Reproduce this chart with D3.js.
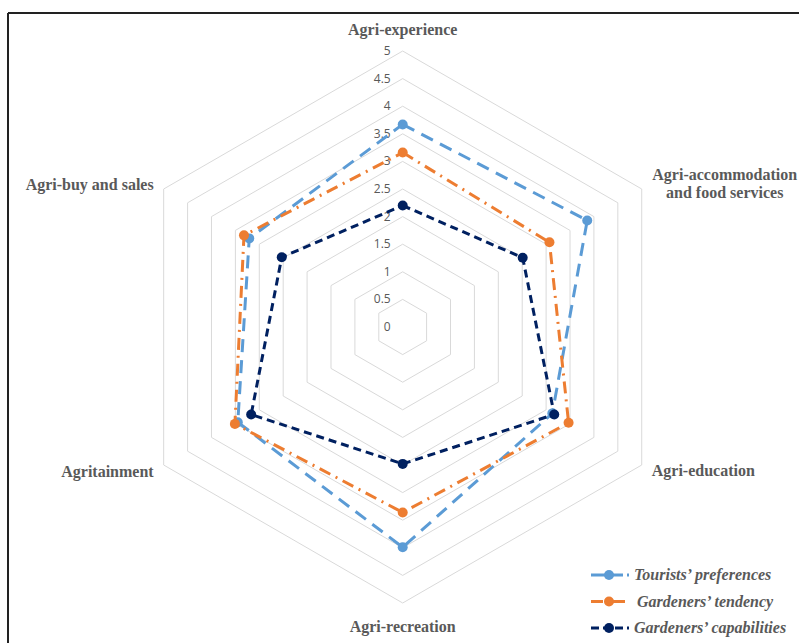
<!DOCTYPE html>
<html lang="en">
<head>
  <meta charset="UTF-8">
  <title>Agri-tourism radar</title>
  <script src="https://d3js.org/d3.v7.min.js"></script>
  <style>
    body { margin: 0; background: #fff; }
    svg text { fill: #595959; }
    .cat { font-family: "Liberation Serif", "Times New Roman", serif; font-weight: bold; font-size: 16px; }
    .tick { font-family: "Open Sans", "Liberation Sans", sans-serif; font-size: 12px; }
    .leg { font-family: "Liberation Serif", "Times New Roman", serif; font-weight: bold; font-style: italic; font-size: 16px; }
  </style>
</head>
<body>
  <svg id="chart" width="799" height="643"></svg>

  <script>
    const categories = ["Agri-experience", "Agri-accommodation and food services", "Agri-education",
                        "Agri-recreation", "Agritainment", "Agri-buy and sales"];
    const tourists = [3.67, 3.86, 3.13, 3.99, 3.45, 3.21];
    const tendency = [3.16, 3.07, 3.47, 3.36, 3.51, 3.32];
    const capabilities = [2.2, 2.51, 3.17, 2.48, 3.17, 2.53];
    const ticks = [0, 0.5, 1, 1.5, 2, 2.5, 3, 3.5, 4, 4.5, 5];
    const seriesNames = ["Tourists\u2019 preferences", "Gardeners\u2019 tendency", "Gardeners\u2019 capabilities"];

    const series = [
      { name: seriesNames[0], values: tourists, color: "#5B9BD5", dash: "13,8" },
      { name: seriesNames[1], values: tendency, color: "#ED7D31", dash: "12,6,2,6" },
      { name: seriesNames[2], values: capabilities, color: "#002060", dash: "8,5" }
    ];

    const svg = d3.select("#chart");
    const cx = 402.7, cy = 327, R = 276;
    const r = d3.scaleLinear().domain([0, 5]).range([0, R]);
    const ang = d3.scaleLinear().domain([0, categories.length]).range([0, 2 * Math.PI]);
    const px = (i, v) => cx + r(v) * Math.sin(ang(i));
    const py = (i, v) => cy - r(v) * Math.cos(ang(i));

    // frame
    svg.append("line").attr("x1", 8).attr("y1", 13).attr("x2", 799).attr("y2", 13).attr("stroke", "#222").attr("stroke-width", 2);
    svg.append("line").attr("x1", 8).attr("y1", 13).attr("x2", 8).attr("y2", 643).attr("stroke", "#222").attr("stroke-width", 2);

    // grid rings
    const ringLine = d3.line();
    ticks.forEach(t => {
      const pts = categories.map((c, i) => [px(i, t), py(i, t)]);
      svg.append("path").attr("d", ringLine(pts) + "Z")
        .attr("fill", "none").attr("stroke", "#d9d9d9").attr("stroke-width", 1);
    });

    // tick labels
    svg.selectAll(".tick").data(ticks).join("text")
      .attr("class", "tick")
      .attr("x", cx - 12).attr("y", d => cy - r(d) + 4)
      .attr("text-anchor", "end")
      .text(d => d);

    // category labels
    const labelPos = [
      { dx: 0, dy: -16, anchor: "middle" },
      { dx: 83, dy: -9, anchor: "middle" },
      { dx: 10, dy: 11, anchor: "start" },
      { dx: 0, dy: 29, anchor: "middle" },
      { dx: -10, dy: 12, anchor: "end" },
      { dx: -10, dy: 1, anchor: "end" }
    ];
    categories.forEach((c, i) => {
      const p = labelPos[i];
      const t = svg.append("text").attr("class", "cat")
        .attr("x", px(i, 5) + p.dx).attr("y", py(i, 5) + p.dy)
        .attr("text-anchor", p.anchor);
      if (i === 1) {
        t.append("tspan").attr("x", px(i, 5) + p.dx).text("Agri-accommodation");
        t.append("tspan").attr("x", px(i, 5) + p.dx).attr("dy", 18).text("and food services");
      } else {
        t.text(c);
      }
    });

    // series
    const line = d3.line().x(d => d[0]).y(d => d[1]);
    series.forEach(s => {
      const pts = s.values.map((v, i) => [px(i, v), py(i, v)]);
      svg.append("path").attr("d", line(pts) + "Z")
        .attr("fill", "none").attr("stroke", s.color).attr("stroke-width", 3)
        .attr("stroke-dasharray", s.dash);
      svg.selectAll(null).data(pts).join("circle")
        .attr("cx", d => d[0]).attr("cy", d => d[1]).attr("r", 5)
        .attr("fill", s.color);
    });

    // legend
    series.forEach((s, i) => {
      const y = 575 + i * 26.5;
      svg.append("line").attr("x1", 591).attr("x2", 629).attr("y1", y).attr("y2", y)
        .attr("stroke", s.color).attr("stroke-width", 3).attr("stroke-dasharray", i === 1 ? "12,4,2,4" : i === 2 ? "8,4" : "14,4");
      svg.append("circle").attr("cx", 609).attr("cy", y).attr("r", 5).attr("fill", s.color);
      svg.append("text").attr("class", "leg").attr("x", i === 1 ? 637 : 634).attr("y", y + 5).text(s.name);
    });
  </script>
</body>
</html>
